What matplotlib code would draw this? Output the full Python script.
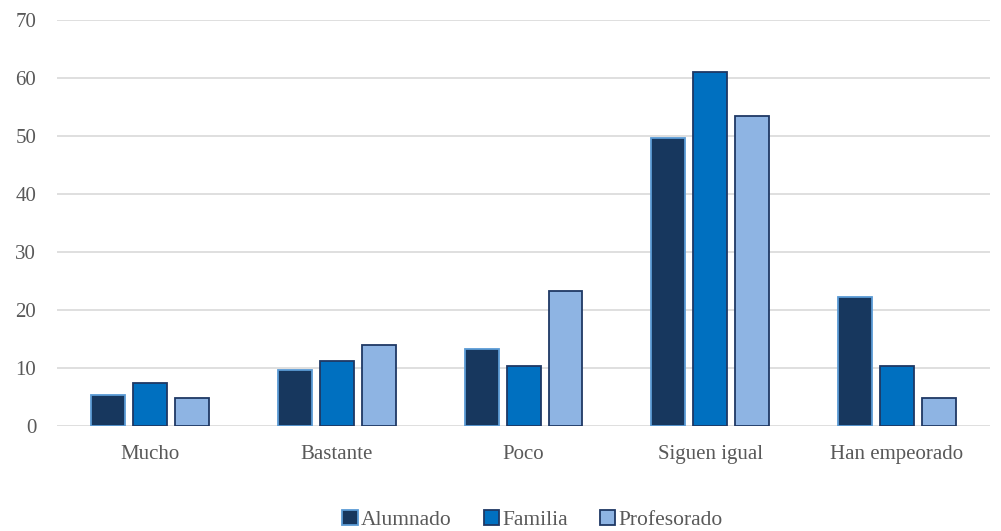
#!/usr/bin/env python3
# -*- coding: utf-8 -*-

import matplotlib
matplotlib.use("Agg")
import matplotlib.pyplot as plt
import numpy as np

categorias = ["Mucho", "Bastante", "Poco", "Siguen igual", "Han empeorado"]
alumnado = [5.3, 9.7, 13.3, 49.7, 22.2]
familia = [7.4, 11.2, 10.3, 61.0, 10.3]
profesorado = [4.8, 14.0, 23.3, 53.4, 4.8]

series = [
    ("Alumnado", alumnado, "#17375E", "#5B9BD5"),
    ("Familia", familia, "#0070C0", "#1F3864"),
    ("Profesorado", profesorado, "#8EB4E3", "#1F3864"),
]

plt.rcParams["font.family"] = ["Liberation Serif", "DejaVu Serif"]

fig = plt.figure(figsize=(10.01, 5.31), dpi=100)
ax = fig.add_axes([0.057, 0.198, 0.932, 0.764])

x = np.arange(len(categorias))
ancho = 0.182
paso = 0.225
for i, (nombre, valores, color, borde) in enumerate(series):
    ax.bar(x + (i - 1) * paso, valores, ancho, color=color,
           edgecolor=borde, linewidth=1.3, label=nombre, zorder=3)

ax.set_xlim(-0.5, len(categorias) - 0.5)
ax.set_ylim(0, 70)
ax.set_yticks(range(0, 71, 10))
ax.set_xticks(x)
ax.set_xticklabels(categorias)
ax.grid(axis="y", color="#D9D9D9", linewidth=1.2, zorder=0)
ax.tick_params(length=0, labelsize=15, colors="#595959")
ax.tick_params(axis="x", pad=14)
ax.tick_params(axis="y", pad=15)
for s in ax.spines.values():
    s.set_visible(False)

fig.legend(loc="lower center", bbox_to_anchor=(0.532, -0.035), ncol=3,
           frameon=False, fontsize=15.5, handlelength=0.7, handleheight=0.7,
           handletextpad=0.15, columnspacing=1.5, labelcolor="#595959")

fig.savefig("out.png", dpi=100)
